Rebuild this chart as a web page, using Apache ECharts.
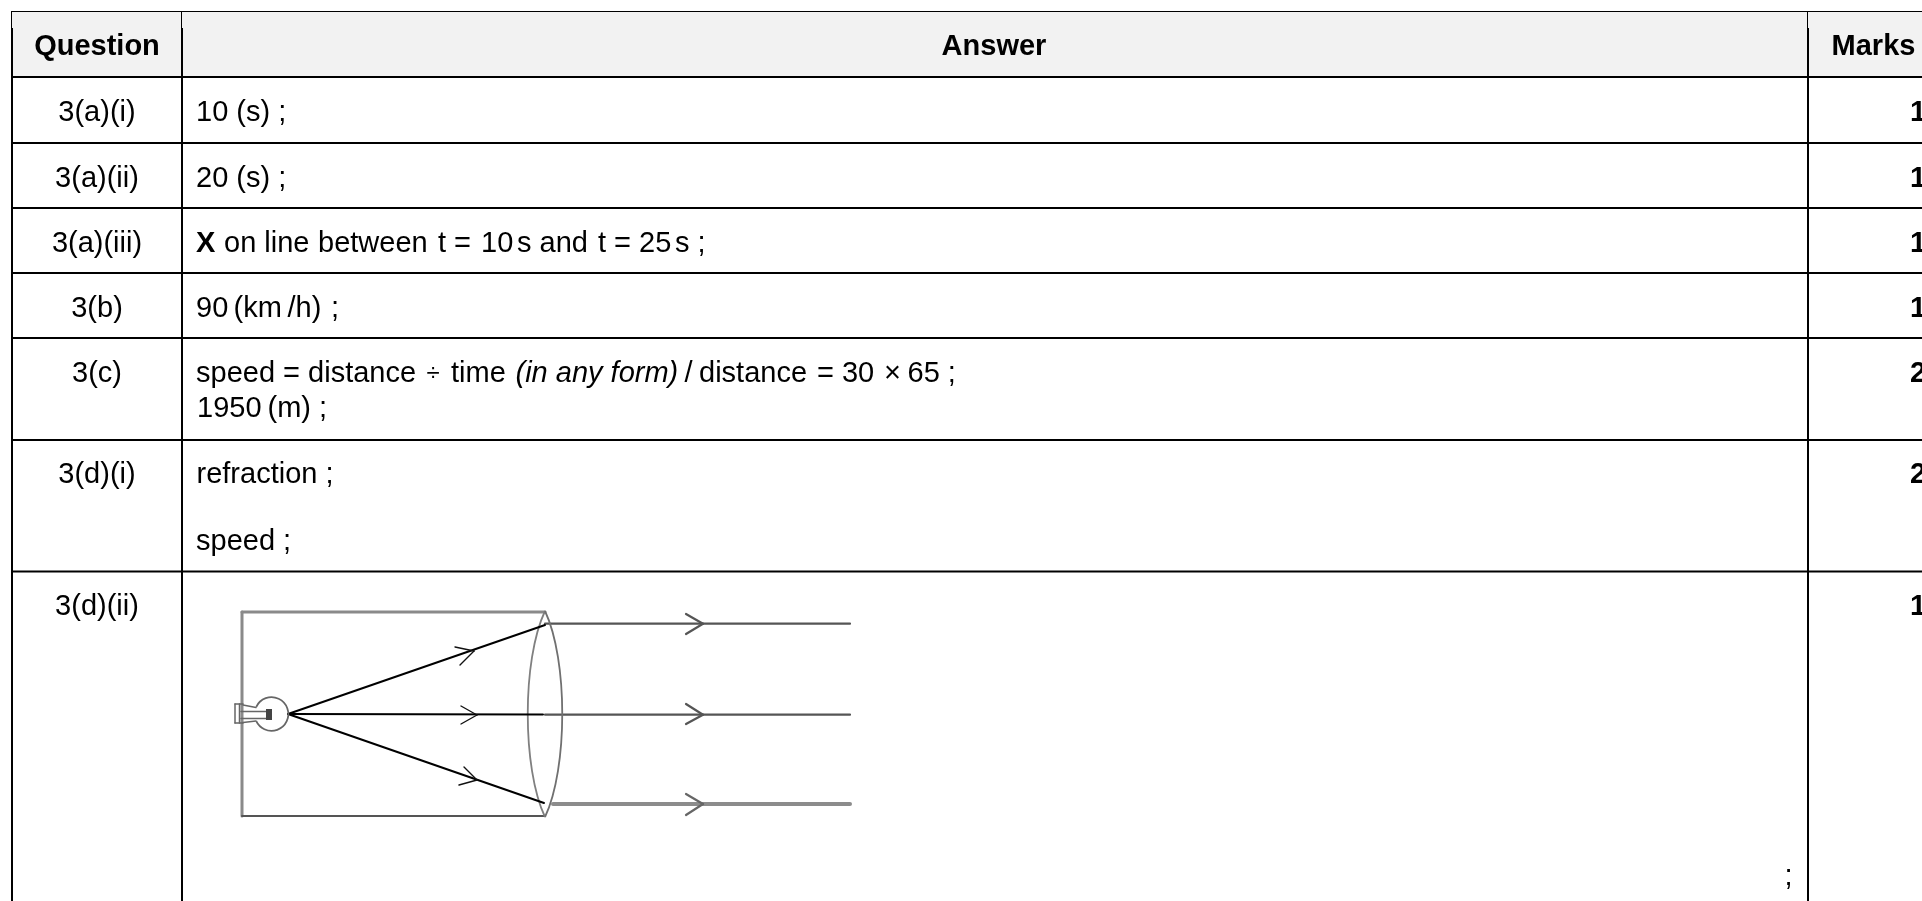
<!DOCTYPE html>
<html><head><meta charset="utf-8">
<style>html,body{margin:0;padding:0;background:#fff;overflow:hidden}#c{width:1922px;height:901px}</style>
<script src="https://cdn.jsdelivr.net/npm/echarts@6/dist/echarts.min.js"></script>
</head><body><div id="c"></div>
<script>
// Table contents
const headers = [['Question', 97], ['Answer', 994], ['Marks', 1873.5]];
const questions = [['3(a)(i)',113],['3(a)(ii)',178.5],['3(a)(iii)',243.5],['3(b)',308.5],['3(c)',374],['3(d)(i)',475],['3(d)(ii)',607]];
// answer pieces: text, left x, y, style
const answers = [
  ['10 (s) ;',196,113,'t'],['20 (s) ;',196,178.5,'t'],
  ['X',196,243.5,'b'],['on line',224,243.5,'t'],['between',318,243.5,'t'],['t =',438,243.5,'t'],['10',481,243.5,'t'],['s and',517,243.5,'t'],['t = 25',598,243.5,'t'],['s ;',675,243.5,'t'],
  ['90',196,308.5,'t'],['(km',233.5,308.5,'t'],['/h)',287.5,308.5,'t'],[';',331,308.5,'t'],
  ['speed = distance',196,374,'t'],['÷',426.5,374,'s'],['time',451,374,'t'],['(in any form)',515.5,374,'i'],['/',684.5,374,'t'],['distance',699,374,'t'],['= 30',817,374,'t'],['×',884,374,'t'],['65 ;',907.5,374,'t'],
  ['1950',197,409,'t'],['(m) ;',267.5,409,'t'],['refraction ;',196.5,475,'t'],['speed ;',196,541.5,'t'],
  [';',1784.5,877,'t']
];
const marks = [['1',113],['1',178.5],['1',243.5],['1',308.5],['2',374],['2',475],['1',607]];
// Table rules
const colLines = [12, 182, 1808];
const rowLines = [77, 143, 208, 273, 338, 440, 571.5];
// Diagram: segments [x0,y0,x1,y1]
const boxGrey = [[242,612,545,612],[242,612,242,816]];
const boxDark = [[242,816,545,816]];
const raysIn = [[288,714,545,625],[288,714,543,714.5],[288,714,544,803]];
const raysInBarbs = [[455,647,474,651],[460,665,474,651],[461,706,477,715],[461,724,477,715],[464,767,477,780],[459,785,477,780]];
const raysOutTop = [[545,623.7,850,623.7],[686,614,703,623.7],[686,634,703,623.7]];
const raysOutMid = [[545,714.7,850,714.7],[686,704,703,714.7],[686,724,703,714.7]];
const raysOutLow = [[553,804,850,804],[686,794,703,804],[686,815,703,804]];
// lens arcs as cubic curves: start, control, control, end
const lensLeft = [545,611,522,660,522,768,545,817];
const lensRight = [545,611,568,660,568,768,545,817];
const bulb = {cx:271.5, cy:714, r:16.8};
const bulbBase = [[235,704,243,704],[235,723,243,723],[235,704,235,723],[239.5,704,239.5,723],[243,705,256,707.5],[243,722.5,256,721],[241,711.5,267,711.5],[241,718.5,267,718.5]];

const FONT = '"Liberation Sans", Arial, sans-serif';
const FS = 29;
const styles = {
  t:`${FS}px ${FONT}`,
  b:`bold ${FS}px ${FONT}`,
  i:`italic ${FS}px ${FONT}`,
  s:`24px ${FONT}`
};
function segs(list,color,w){return list.map(s=>({k:'seg',s,color,w,cap:'round'}));}
const items = [
  {k:'fill'},
  ...rowLines.map(y=>({k:'seg',s:[11,y,1922,y],color:'#000',w:2})),
  {k:'seg',s:[11,11.5,1922,11.5],color:'#000',w:1.2},
  ...colLines.map(x=>({k:'seg',s:[x,28,x,901],color:'#000',w:2})),
  ...colLines.map(x=>({k:'seg',s:[x-0.5,11,x-0.5,28],color:'#000',w:1})),
  ...segs(boxGrey,'#8a8a8a',3),...segs(boxDark,'#555',2),
  ...segs(raysOutLow.slice(0,1),'#8c8c8c',4),...segs(raysOutLow.slice(1),'#666',2.2),
  ...segs(raysOutTop,'#555',2.2),...segs(raysOutMid,'#555',2.2),
  {k:'curve',p:lensLeft,color:'#808080',w:1.8},{k:'curve',p:lensRight,color:'#707070',w:1.8},
  ...segs(raysIn,'#000',2),...segs(raysInBarbs,'#111',1.4),
  {k:'arc',...bulb},
  ...segs(bulbBase,'#666',1.5),
  {k:'rect',s:[266,709,272,720]},
  ...headers.map(h=>({k:'text',x:h[1],y:47,text:h[0],font:styles.b,align:'center'})),
  ...questions.map(q=>({k:'text',x:97,y:q[1],text:q[0],font:styles.t,align:'center'})),
  ...answers.map(a=>({k:'text',x:a[1],y:a[2],text:a[0],font:styles[a[3]],align:'left'})),
  ...marks.map(m=>({k:'text',x:1910,y:m[1],text:m[0],font:styles.b,align:'left'}))
];
const chart = echarts.init(document.getElementById('c'),null,{renderer:'canvas'});
chart.setOption({
  animation:false,
  grid:{left:0,right:0,top:0,bottom:0},
  xAxis:{type:'value',min:0,max:1922,show:false},
  yAxis:{type:'value',min:0,max:901,inverse:true,show:false},
  series:[{
    type:'custom',coordinateSystem:'cartesian2d',clip:false,silent:true,
    data:items.map((_,i)=>[i,0]),
    renderItem(params,api){
      const it=items[params.dataIndex];
      if(it.k==='fill'){
        const a=api.coord([12,12]),b=api.coord([1922,76]);
        return {type:'rect',shape:{x:a[0],y:a[1],width:b[0]-a[0],height:b[1]-a[1]},style:{fill:'#f2f2f2'}};
      }
      if(it.k==='seg'){
        const a=api.coord([it.s[0],it.s[1]]),b=api.coord([it.s[2],it.s[3]]);
        return {type:'line',shape:{x1:a[0],y1:a[1],x2:b[0],y2:b[1]},style:{stroke:it.color,lineWidth:it.w,lineCap:it.cap||'butt'}};
      }
      if(it.k==='curve'){
        const p=it.p;
        const s=api.coord([p[0],p[1]]),c1=api.coord([p[2],p[3]]),c2=api.coord([p[4],p[5]]),e=api.coord([p[6],p[7]]);
        return {type:'bezierCurve',shape:{x1:s[0],y1:s[1],cpx1:c1[0],cpy1:c1[1],cpx2:c2[0],cpy2:c2[1],x2:e[0],y2:e[1]},style:{stroke:it.color,lineWidth:it.w,fill:null}};
      }
      if(it.k==='arc'){
        const c=api.coord([it.cx,it.cy]);
        const gap=25*Math.PI/180;
        return {type:'arc',shape:{cx:c[0],cy:c[1],r:it.r,startAngle:-Math.PI+gap,endAngle:Math.PI-gap,clockwise:true},style:{stroke:'#666',lineWidth:1.8,fill:null}};
      }
      if(it.k==='rect'){
        const a=api.coord([it.s[0],it.s[1]]),b=api.coord([it.s[2],it.s[3]]);
        return {type:'rect',shape:{x:a[0],y:a[1],width:b[0]-a[0],height:b[1]-a[1]},style:{fill:'#444'}};
      }
      const c=api.coord([it.x,it.y]);
      return {type:'text',x:c[0],y:c[1],style:{text:it.text,align:it.align,verticalAlign:'middle',font:it.font,fill:'#000'}};
    }
  }]
});
</script></body></html>
